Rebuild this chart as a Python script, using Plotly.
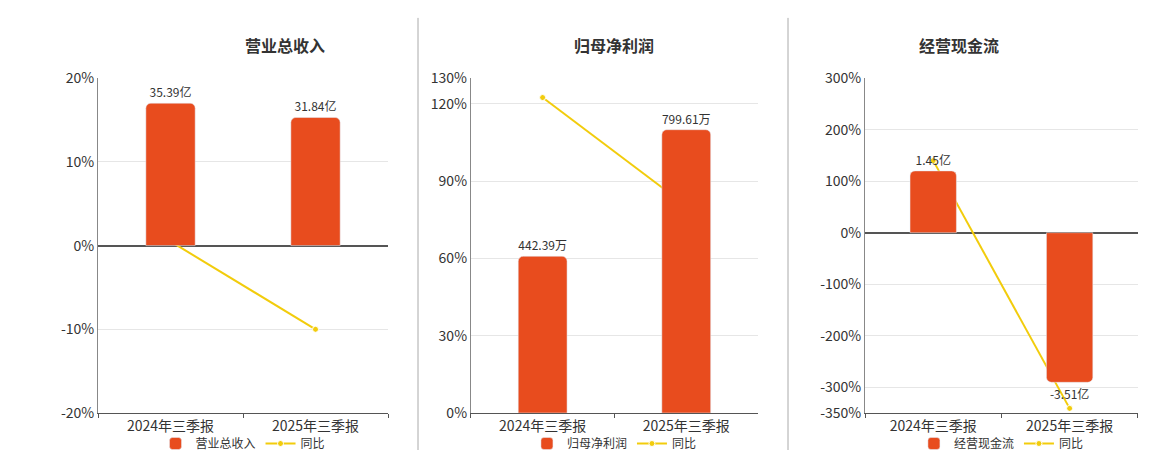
import plotly.graph_objects as go

categories = ["2024年三季报", "2025年三季报"]
titles = ["营业总收入", "归母净利润", "经营现金流"]
bar_values = [[35.39, 31.84], [442.39, 799.61], [1.45, -3.51]]
bar_labels = [["35.39亿", "31.84亿"], ["442.39万", "799.61万"], ["1.45亿", "-3.51亿"]]
yoy = [[0.5, -10.0], [122.5, 80.5], [140.0, -341.0]]
pct_ranges = [[-20, 20], [0, 130], [-350, 300]]
pct_ticks = [[-20, -10, 0, 10, 20], [0, 30, 60, 90, 120, 130], [-350, -300, -200, -100, 0, 100, 200, 300]]
bar_ranges = [[-41.6, 41.6], [0, 945], [-4.23, 3.625]]

BAR = "#E84C1E"
LINE = "#F2CC0C"
xdoms = [[0.0776, 0.3276], [0.399, 0.6466], [0.7388, 0.974]]
ydom = [0.1, 0.844]

fig = go.Figure()
for i in range(3):
    n = i + 1
    xa = "x" if n == 1 else f"x{n}"
    ya_bar = f"y{2*n}"
    ya_pct = "y" if n == 1 else f"y{2*n-1}"
    lg = "legend" if n == 1 else f"legend{n}"
    fig.add_trace(go.Bar(x=categories, y=bar_values[i], name=titles[i], xaxis=xa, yaxis=ya_bar,
                         marker=dict(color=BAR, cornerradius=5), width=0.34,
                         text=bar_labels[i], textposition="outside",
                         textfont=dict(size=12, color="#333"), cliponaxis=False, legend=lg))
    fig.add_trace(go.Scatter(x=categories, y=yoy[i], name="同比", xaxis=xa, yaxis=ya_pct,
                             mode="lines+markers", line=dict(color=LINE, width=2),
                             marker=dict(size=6, color=LINE, line=dict(color="white", width=1)),
                             legend=lg))
    fig.layout[f"xaxis{'' if n == 1 else n}"] = dict(
        domain=xdoms[i], anchor=ya_pct, tickson="boundaries",
        showline=True, linecolor="#555", ticks="outside", tickcolor="#555", ticklen=4,
        tickfont=dict(size=14, color="#333"), showgrid=False, automargin=False)
    fig.layout[f"yaxis{'' if n == 1 else 2*n-1}"] = dict(
        domain=ydom, range=pct_ranges[i], tickvals=pct_ticks[i],
        ticktext=[f"{v}%" for v in pct_ticks[i]], anchor=xa, automargin=False,
        showline=True, linecolor="#888", gridcolor="#e6e6e6",
        zeroline=True, zerolinecolor="#555", zerolinewidth=1.5,
        tickfont=dict(size=14, color="#333"))
    fig.layout[f"yaxis{2*n}"] = dict(domain=ydom, range=bar_ranges[i], overlaying=ya_pct,
                                     anchor=xa, visible=False)
    cx = (xdoms[i][0] + xdoms[i][1]) / 2
    fig.layout[lg] = dict(orientation="h", x=cx, xanchor="center", y=0.0, yanchor="bottom",
                          yref="container", itemwidth=30,
                          font=dict(size=12, color="#333"), bgcolor="rgba(0,0,0,0)")
    fig.add_annotation(text=f"<b>{titles[i]}</b>", x=cx, y=0.95, xref="paper", yref="paper",
                       showarrow=False, font=dict(size=16, color="#333"))

for xs in [410 / 1160, 780 / 1160]:
    fig.add_shape(type="line", x0=xs, x1=xs, y0=0.015, y1=0.978, xref="paper", yref="paper",
                  line=dict(color="#aaa", width=1))

fig.update_layout(width=1160, height=450, margin=dict(l=0, r=0, t=0, b=0, autoexpand=False),
                  plot_bgcolor="white", paper_bgcolor="white", barmode="group",
                  font=dict(family="Noto Sans CJK SC, DejaVu Sans"))
fig.write_html("out.html")
